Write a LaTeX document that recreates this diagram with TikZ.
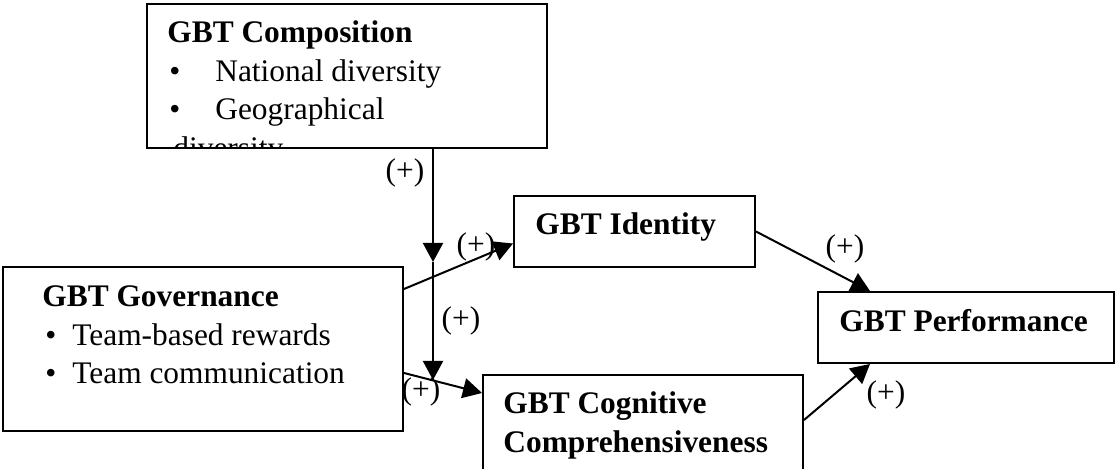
\documentclass[tikz,border=0pt]{standalone}
\usepackage{fontspec}
\setmainfont{Liberation Serif}
\usetikzlibrary{positioning,arrows.meta,calc}
\tikzstyle{gbox}=[rectangle, draw=black, line width=1pt, inner sep=0pt, anchor=north west]
\tikzstyle{btext}=[anchor=base west, inner sep=0pt, align=left,
 font=\fontsize{15.7}{19.25}\selectfont]
\tikzstyle{sign}=[inner sep=0pt, font=\fontsize{15.7}{19.25}\selectfont]
\tikzstyle{pline}=[line width=1pt, -{Triangle[length=9.5pt,width=10pt]}]

\begin{document}
\begin{tikzpicture}[x=0.5pt,y=-0.5pt]
\useasboundingbox (0,0) rectangle (1120,469);

% boxes (text base = last line)
\node (COMP) [gbox, minimum width=200pt, minimum height=72pt] at (146,3) {};
\begin{scope}
\clip (COMP.north west) rectangle (COMP.south east);
\node [btext] at ([shift={(21,155.5)}]COMP.north west) {\textbf{GBT Composition}\\
\makebox[24pt][l]{\hspace*{1pt}\textbullet}National diversity\\
\makebox[24pt][l]{\hspace*{1pt}\textbullet}Geographical\\
\hspace*{3pt}diversity};
\end{scope}

\node (GOV) [gbox, minimum width=200pt, minimum height=82pt] at (2,266) {};
\node [btext] at ([shift={(40,118)}]GOV.north west) {\textbf{GBT Governance}\\
\makebox[15pt][l]{\hspace*{1.5pt}\textbullet}Team-based rewards\\
\makebox[15pt][l]{\hspace*{1.5pt}\textbullet}Team communication};

\node (IDENT) [gbox, minimum width=120.5pt, minimum height=35.5pt] at (513,195) {};
\node [btext] at ([shift={(22,40)}]IDENT.north west) {\textbf{GBT Identity}};

\node (PERF) [gbox, minimum width=148pt, minimum height=35.5pt] at (817,291) {};
\node [btext] at ([shift={(22,41)}]PERF.north west) {\textbf{GBT Performance}};

\node (COG) [gbox, minimum width=160pt, minimum height=55pt] at (482,374) {};
\node [btext] at ([shift={(21,78.5)}]COG.north west) {\textbf{GBT Cognitive}\\
\textbf{Comprehensiveness}};

% moderating path
\coordinate (M1) at (433,262);
\coordinate (M2) at (433,380);
\draw[pline] (M1 |- COMP.south) -- (M1);
\draw[pline] (M1) -- (M2);

% direct paths
\draw[pline] ([shift={(0,-60)}]GOV.east) -- ([shift={(0,12)}]IDENT.west);
\draw[pline] ([shift={(0,24)}]GOV.east) -- ([shift={(0,19)}]COG.north west);
\draw[pline] (IDENT.east) -- ([shift={(53,0)}]PERF.north west);
\draw[pline] ([shift={(0,46)}]COG.north east) -- ([shift={(53,0)}]PERF.south west);

% signs
\node (S1) [sign] at (405,173) {(+)};
\node (S2) [sign] at (476,247) {(+)};
\node (S3) [sign] at (461,321) {(+)};
\node (S4) [sign] at (421,392) {(+)};
\node (S5) [sign] at (845,249) {(+)};
\node (S6) [sign] at (886,395) {(+)};

\end{tikzpicture}
\end{document}
